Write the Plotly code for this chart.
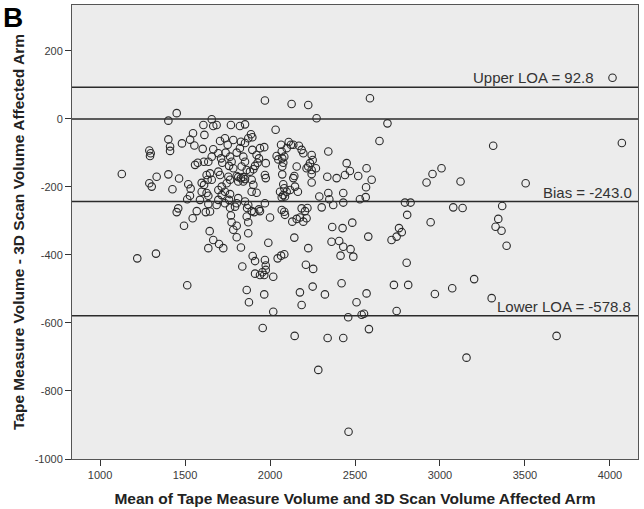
import plotly.graph_objects as go

# Bland-Altman: mean of the two arm-volume measurements vs their difference
mean_volume = [
    1128, 1290, 1298, 1294, 1290, 1304, 1333, 1402, 1451, 1402, 1402, 1412, 1412, 1426, 1465,
    1482, 1513, 1529, 1519, 1533, 1530, 1547, 1555, 1559, 1575, 1588, 1598, 1598, 1612, 1608,
    1614, 1604, 1611, 1460, 1451, 1569, 1545, 1494, 1329, 1219, 1513, 1622, 1647, 1645, 1637,
    1970, 2127, 1657, 1666, 1686, 1770, 1823, 1853, 2033, 1888, 1896, 1872, 1706, 1735, 1751,
    1784, 1829, 1853, 1666, 1696, 1712, 1719, 1657, 1637, 1739, 1765, 1774, 1759, 1784, 1804,
    1823, 1843, 1853, 1863, 1833, 1896, 1921, 1941, 1966, 1935, 1927, 1902, 1882, 1912, 1975,
    2065, 2069, 2084, 2039, 2049, 2072, 2098, 2110, 2123, 2137, 2170, 2078, 2072, 2157, 2143,
    1647, 1627, 1633, 1657, 1706, 1696, 1755, 1765, 1745, 1716, 1804, 1813, 1829, 1843, 1813,
    1843, 1853, 1892, 1902, 1892, 1970, 1975, 2072, 2078, 2084, 2137, 2147, 2164, 2118, 2098,
    2078, 2059, 2069, 2088, 1627, 1637, 1696, 1716, 1735, 1765, 1759, 1735, 1696, 1686, 1813,
    1804, 1853, 1872, 1921, 1970, 1637,
    2588, 2225, 2274, 2691, 2644, 2343, 2186, 2196, 2245, 2251, 2235, 2225, 2215, 2245, 2270,
    2245, 2245, 2451, 2470, 2441, 2392, 2337, 2519, 2568, 2598, 2565, 2290, 2343, 2349, 2372,
    2431, 2431, 2529, 2563, 2304,
    1765, 1794, 1770, 1774, 1784, 1804, 1804, 1666, 1700, 1725, 1829, 1863, 1872, 1872, 1865,
    1892, 1907, 1941, 1935, 2000, 2069, 2084, 2088, 2131, 2157, 2176, 2143, 1990, 1898, 1912,
    1837, 1970, 1975, 1975, 1966, 1955, 1941, 1912, 2019, 2045, 2065, 2084, 1863, 1876, 1966,
    2019, 2176, 2186, 1957, 2145, 2284, 2339, 2431, 2462,
    2186, 2206, 2220, 2215, 2196, 2366, 2427, 2484, 2578, 2715, 2745, 2759, 2775, 2225, 2362,
    2407, 2431, 2474, 2490, 2415, 2211, 2254, 2251, 2323, 2421, 2568, 2509, 2729, 2745, 2460,
    2539, 2553, 2582,
    2794, 2827, 2807, 2921, 2956, 3009, 3121, 2945, 3078, 3133, 3313, 3366, 3343, 3327, 3362,
    3392, 3504, 4015, 4070, 2804, 2813, 2970, 3072, 3201, 3304, 3156, 3686,
]
difference = [
    -162, -93, -101, -109, -189, -199, -170, -5, 17, -163, -60, -81, -94, -207, -175,
    -72, -236, -226, -192, -205, -61, -42, -78, -135, -129, -238, -214, -188, -194, -18,
    -47, -88, -126, -263, -274, -271, -292, -314, -396, -410, -489, -274, -272, -330, -380,
    54, 44, -1, -21, -18, -18, -21, -16, -32, -45, -54, -57, -65, -57, -76,
    -62, -67, -71, -89, -101, -116, -129, -111, -126, -99, -111, -126, -138, -145, -99,
    -86, -111, -126, -150, -140, -91, -106, -86, -83, -116, -129, -148, -155, -138, -130,
    -76, -96, -111, -109, -119, -116, -86, -68, -76, -76, -79, -129, -140, -140, -168,
    -160, -165, -179, -179, -165, -155, -170, -179, -189, -199, -168, -171, -174, -171, -184,
    -184, -177, -179, -194, -214, -165, -174, -163, -192, -204, -174, -199, -214, -209, -214,
    -224, -214, -230, -228, -218, -226, -209, -224, -214, -221, -238, -248, -238, -253, -233,
    -248, -243, -253, -217, -248, -250,
    61, 41, 2, -13, -65, -96, -91, -101, -106, -121, -130, -140, -145, -150, -145,
    -162, -187, -130, -153, -165, -174, -170, -168, -145, -179, -201, -228, -218, -236, -253,
    -218, -246, -236, -230, -260,
    -261, -258, -284, -304, -326, -314, -348, -356, -368, -380, -378, -287, -304, -336, -262,
    -271, -274, -271, -266, -290, -268, -273, -282, -302, -294, -290, -349, -364, -403, -418,
    -434, -415, -431, -444, -459, -451, -459, -455, -464, -410, -402, -398, -503, -539, -516,
    -567, -510, -547, -615, -638, -738, -644, -644, -920,
    -263, -271, -262, -292, -302, -318, -321, -305, -346, -356, -346, -321, -333, -380, -361,
    -359, -376, -383, -405, -402, -429, -441, -493, -516, -483, -513, -539, -488, -565, -583,
    -576, -573, -618,
    -246, -246, -282, -187, -162, -145, -184, -304, -260, -262, -79, -256, -294, -317, -329,
    -373, -189, 121, -71, -423, -488, -515, -498, -471, -527, -702, -638,
]

# Reference lines: limits of agreement, mean bias and zero difference
upper_loa = 92.8
bias = -243.0
lower_loa = -578.8
zero_line = 0

x_ticks = [1000, 1500, 2000, 2500, 3000, 3500, 4000]
y_ticks = [-1000, -800, -600, -400, -200, 0, 200]

font_family = "Arial, Liberation Sans, sans-serif"
ink = "#222222"

fig = go.Figure()

for level in (upper_loa, zero_line, bias, lower_loa):
    fig.add_shape(
        type="line", xref="paper", x0=0, x1=1, yref="y", y0=level, y1=level,
        line=dict(color="#2b2b2b", width=1.5), layer="above",
    )

fig.add_trace(go.Scatter(
    x=mean_volume, y=difference, mode="markers",
    marker=dict(symbol="circle-open", size=7.5, color="#2a2a2a", line=dict(width=1.1)),
    hoverinfo="x+y", showlegend=False,
))

label_font = dict(family=font_family, size=15, color="#333333")
fig.add_annotation(x=3915, y=upper_loa, xref="x", yref="y", text=f"Upper LOA = {upper_loa:.1f}",
                   showarrow=False, xanchor="right", yanchor="bottom", yshift=-1, font=label_font)
fig.add_annotation(x=4140, y=bias, xref="x", yref="y", text=f"Bias = {bias:.1f}",
                   showarrow=False, xanchor="right", yanchor="bottom", yshift=-1, font=label_font)
fig.add_annotation(x=4135, y=lower_loa, xref="x", yref="y", text=f"Lower LOA = {lower_loa:.1f}",
                   showarrow=False, xanchor="right", yanchor="bottom", yshift=-1, font=label_font)

# Panel letter
fig.add_annotation(x=-0.125, y=1.012, xref="paper", yref="paper", text="<b>B</b>",
                   showarrow=False, xanchor="left", yanchor="top",
                   font=dict(family=font_family, size=28, color="#000000"))

axis_common = dict(
    showgrid=False, zeroline=False, showline=True, mirror=True,
    linecolor="#555555", linewidth=1,
    ticks="outside", ticklen=6, tickcolor="#333333", tickwidth=1,
    tickfont=dict(family=font_family, size=11, color="#3a3a3a"),
)

fig.update_xaxes(
    range=[835, 4165], tickvals=x_ticks, ticktext=[str(v) for v in x_ticks],
    title=dict(text="<b>Mean of Tape Measure Volume and 3D Scan Volume Affected Arm</b>",
               font=dict(family=font_family, size=15.5, color=ink), standoff=12),
    **axis_common,
)
fig.update_yaxes(
    range=[-1000, 335], tickvals=y_ticks, ticktext=[str(v) for v in y_ticks],
    title=dict(text="<b>Tape Measure Volume - 3D Scan Volume Affected Arm</b>",
               font=dict(family=font_family, size=15.5, color=ink), standoff=6),
    **axis_common,
)

fig.update_layout(
    width=644, height=509,
    margin=dict(l=72, r=6, t=5, b=50),
    paper_bgcolor="#ffffff", plot_bgcolor="#ececec",
    font=dict(family=font_family),
)

fig.write_html("out.html")
